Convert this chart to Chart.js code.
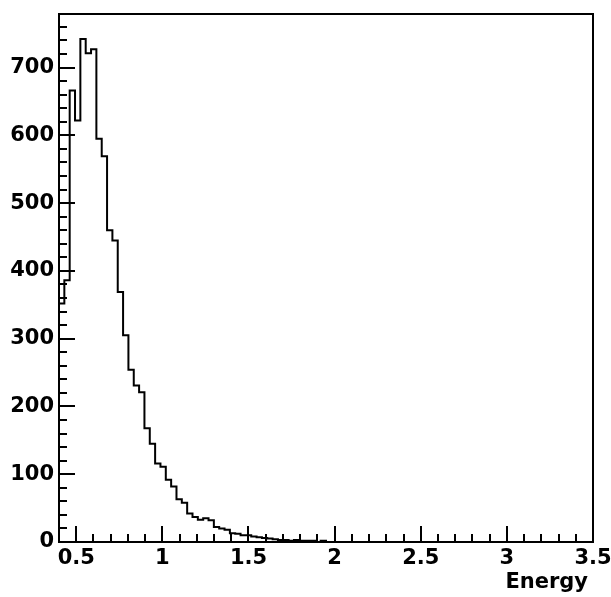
<!DOCTYPE html>
<html>
<head>
<meta charset="utf-8">
<script src="https://cdn.jsdelivr.net/npm/chart.js@4.4.0/dist/chart.umd.min.js"></script>
<style>
  html, body { margin: 0; padding: 0; background: #fff; }
  canvas { display: block; }
</style>
</head>
<body>
<canvas id="energyHist" width="611" height="597"></canvas>
<script>
// histogram binning: 100 bins from 0.4 to 3.5
const binLow = 0.4;
const binWidth = 0.031;
const xMin = 0.4;
const xMax = 3.5;
const yMax = 779;
const xTitle = 'Energy';

// bin contents
const counts = [
  352, 386, 666, 622, 742, 721, 727, 595, 569, 460,
  445, 369, 305, 254, 231, 221, 168, 145, 116, 111,
  92, 82, 63, 58, 42, 37, 33, 35, 32, 22,
  20, 18, 13, 12, 10, 10, 8, 7, 6, 5,
  4, 3, 3, 2, 3, 2, 2, 2, 0, 2,
  0, 0, 0, 0, 0, 0, 0, 0, 0, 0,
  0, 0, 0, 0, 0, 0, 0, 0, 0, 0,
  0, 0, 0, 0, 0, 0, 0, 0, 0, 0,
  0, 0, 0, 0, 0, 0, 0, 0, 0, 0,
  0, 0, 0, 0, 0, 0, 0, 0, 0, 0,
];

const xMajorTicks = [0.5, 1, 1.5, 2, 2.5, 3, 3.5];
const xTickLabels = ['0.5', '1', '1.5', '2', '2.5', '3', '3.5'];
const yMajorTicks = [0, 100, 200, 300, 400, 500, 600, 700];
const yTickLabels = ['0', '100', '200', '300', '400', '500', '600', '700'];
const xMinorStep = 0.1;
const yMinorStep = 20;

// step outline: start on the axis, one point per bin left edge, close at the end
const points = [{ x: binLow, y: 0 }];
counts.forEach((v, i) => points.push({ x: binLow + i * binWidth, y: v }));
points.push({ x: binLow + counts.length * binWidth, y: 0 });

const labelFont = { family: 'DejaVu Sans', size: 21, weight: 'bold' };

// ROOT-like frame with inward ticks, axis title at the right end
const frameTicks = {
  id: 'frameTicks',
  afterDatasetsDraw(chart) {
    const { ctx, chartArea: a, scales: { x, y } } = chart;
    ctx.save();
    ctx.strokeStyle = '#000';
    ctx.lineWidth = 2;
    ctx.beginPath();
    for (let v = xMin; v <= xMax + 1e-9; v += xMinorStep) {
      const px = Math.round(x.getPixelForValue(v));
      const major = xMajorTicks.some((t) => Math.abs(t - v) < 1e-6);
      ctx.moveTo(px, a.bottom);
      ctx.lineTo(px, a.bottom - (major ? 16 : 8));
    }
    for (let v = 0; v <= yMax; v += yMinorStep) {
      const py = Math.round(y.getPixelForValue(v));
      ctx.moveTo(a.left, py);
      ctx.lineTo(a.left + (v % 100 === 0 ? 16 : 8), py);
    }
    ctx.stroke();
    ctx.strokeRect(a.left, a.top, a.right - a.left, a.bottom - a.top);

    ctx.fillStyle = '#000';
    ctx.font = 'bold 21px "DejaVu Sans"';
    ctx.textAlign = 'right';
    ctx.textBaseline = 'alphabetic';
    ctx.fillText(xTitle, a.right - 5, 588);
    ctx.restore();
  },
};

new Chart(document.getElementById('energyHist'), {
  type: 'line',
  data: {
    datasets: [{
      data: points,
      stepped: 'before',
      borderColor: '#000',
      borderWidth: 2,
      pointRadius: 0,
      fill: false,
    }],
  },
  options: {
    responsive: false,
    animation: false,
    layout: { padding: { top: 14, right: 18, left: 0, bottom: 0 } },
    plugins: { legend: { display: false }, tooltip: { enabled: false } },
    scales: {
      x: {
        type: 'linear',
        min: xMin,
        max: xMax,
        afterBuildTicks: (s) => { s.ticks = xMajorTicks.map((v) => ({ value: v })); },
        afterFit: (s) => { s.height = 55; s.paddingLeft = 0; s.paddingRight = 0; },
        grid: { display: false, drawTicks: false },
        border: { display: false },
        ticks: {
          color: '#000',
          font: labelFont,
          padding: 4,
          autoSkip: false,
          maxRotation: 0,
          callback: (v, i) => xTickLabels[i],
        },
      },
      y: {
        min: 0,
        max: yMax,
        afterBuildTicks: (s) => { s.ticks = yMajorTicks.map((v) => ({ value: v })); },
        afterFit: (s) => { s.width = 59; s.paddingTop = 0; s.paddingBottom = 0; },
        grid: { display: false, drawTicks: false },
        border: { display: false },
        ticks: {
          color: '#000',
          font: labelFont,
          padding: 5,
          autoSkip: false,
          callback: (v, i) => yTickLabels[i],
        },
      },
    },
  },
  plugins: [frameTicks],
});
</script>
</body>
</html>
